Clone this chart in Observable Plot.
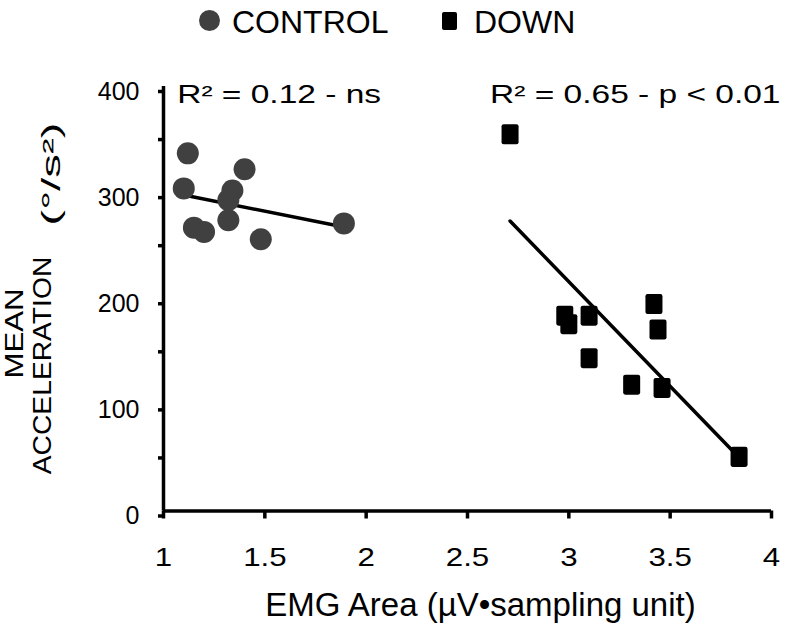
<!DOCTYPE html>
<html><head><meta charset="utf-8">
<script src="https://cdn.jsdelivr.net/npm/d3@7"></script>
<script src="https://cdn.jsdelivr.net/npm/@observablehq/plot@0.6"></script>
<style>
body{margin:0;background:#fff;font-family:"Liberation Sans",Arial,sans-serif;}
#wrap{width:787px;}
#legend{position:relative;height:44px;width:787px;}
#legend .lb{position:absolute;font-size:32px;line-height:32px;color:#000;white-space:nowrap;}
#legend .sw{position:absolute;}
#chart svg{display:block;}
</style></head>
<body><div id="wrap"><div id="legend"></div><div id="chart"></div></div>
<script>
// ---- data ----
const groups = ["CONTROL", "DOWN"];
const groupColors = ["#404040", "#000000"];
const controlX = [1.12, 1.10, 1.40, 1.34, 1.32, 1.32, 1.15, 1.20, 1.48, 1.89];
const controlY = [337, 304, 322, 302, 293, 274, 267, 263, 256, 271];
const downX = [2.71, 2.98, 3.00, 3.10, 3.42, 3.44, 3.10, 3.31, 3.46, 3.84];
const downY = [355, 184, 176, 184, 195, 171, 144, 119, 116, 51];
const xTicks = [1, 1.5, 2, 2.5, 3, 3.5, 4];
const yTicks = [0, 100, 200, 300, 400];
const yMinorTicks = [50, 150, 250, 350];
const annotations = ["R\u00B2 = 0.12 - ns", "R\u00B2 = 0.65 - p < 0.01"];
const xTitle = "EMG Area (\u00B5V\u2022sampling unit)";
const yTitleLines = ["MEAN", "ACCELERATION", "(\u00B0/s\u00B2)"];

const control = controlX.map((x, i) => ({x, y: controlY[i]}));
const down = downX.map((x, i) => ({x, y: downY[i]}));

// ---- legend (HTML, above the SVG) ----
const legend = document.getElementById("legend");
legend.innerHTML = `
  <div class="sw" style="left:198.5px;top:9.5px;width:21px;height:21px;border-radius:50%;background:${groupColors[0]}"></div>
  <div class="lb" style="left:232px;top:6px">${groups[0]}</div>
  <div class="sw" style="left:441.5px;top:12px;width:15px;height:18px;border-radius:2px;background:${groupColors[1]}"></div>
  <div class="lb" style="left:474px;top:6px">${groups[1]}</div>`;

// rounded, slightly tall rectangle symbol for the DOWN group
const tallSquare = {
  draw(ctx, size) {
    const s = Math.sqrt(size);
    const w = s * 0.48, h = s * 0.565, r = s * 0.12;
    ctx.moveTo(-w + r, -h);
    ctx.arcTo(w, -h, w, h, r);
    ctx.arcTo(w, h, -w, h, r);
    ctx.arcTo(-w, h, -w, -h, r);
    ctx.arcTo(-w, -h, w, -h, r);
    ctx.closePath();
  }
};

const font = "'Liberation Sans', Arial, sans-serif";

const chart = Plot.plot({
  width: 787,
  height: 582,
  marginTop: 42,
  marginLeft: 163,
  marginRight: 16,
  marginBottom: 115.5,
  style: {fontFamily: font, color: "#000", background: "#fff", overflow: "visible"},
  x: {domain: [1, 4]},
  y: {domain: [0, 400]},
  marks: [
    Plot.axisY({ticks: yTicks, tickSize: 5, tickPadding: 19, fontSize: 25, dy: 5, stroke: "#000", strokeWidth: 3.5, label: null, tickFormat: d => String(d)}),
    Plot.axisY({ticks: yMinorTicks, tickSize: 5, stroke: "#000", strokeWidth: 3.5, label: null, tickFormat: () => ""}),
    Plot.axisX({ticks: xTicks, tickSize: 8, tickPadding: 29, fontSize: 25, stroke: "#000", strokeWidth: 3.5, label: null, tickFormat: d => String(d)}),
    Plot.ruleX([1], {y1: 0, y2: 400, stroke: "#000", strokeWidth: 3.5}),
    Plot.ruleY([0], {x1: 1, x2: 4, stroke: "#000", strokeWidth: 3.5}),
    Plot.linearRegressionY(control, {x: "x", y: "y", ci: 0, stroke: "#000", strokeWidth: 3.5}),
    Plot.linearRegressionY(down, {x: "x", y: "y", ci: 0, stroke: "#000", strokeWidth: 3.5}),
    Plot.dot(control, {x: "x", y: "y", r: 11, fill: groupColors[0]}),
    Plot.dot(down, {x: "x", y: "y", r: 10, fill: groupColors[1], symbol: tallSquare}),
    Plot.text([annotations[0]], {frameAnchor: "top-left", textAnchor: "start", lineAnchor: "middle", dx: 13.7, dy: 8, fontSize: 25, fill: "#000"}),
    Plot.text([annotations[1]], {frameAnchor: "top-right", textAnchor: "end", lineAnchor: "middle", dx: 9, dy: 8, fontSize: 25, fill: "#000"}),
    Plot.text([xTitle], {frameAnchor: "bottom", textAnchor: "middle", lineAnchor: "bottom", dx: 13, dy: 105, fontSize: 33, fill: "#000"}),
    Plot.text([yTitleLines[0]], {frameAnchor: "left", rotate: -90, textAnchor: "middle", lineAnchor: "middle", dx: -149, dy: 34.75, fontSize: 25, fill: "#000"}),
    Plot.text([yTitleLines[1]], {frameAnchor: "left", rotate: -90, textAnchor: "middle", lineAnchor: "middle", dx: -120.5, dy: 66.75, fontSize: 25, fill: "#000"}),
    Plot.text([yTitleLines[2]], {frameAnchor: "left", rotate: -90, textAnchor: "middle", lineAnchor: "middle", dx: -112, dy: -124.75, fontSize: 25, fill: "#000"})
  ]
});
document.getElementById("chart").appendChild(chart);

// stretch some texts along their writing direction, as in the reference
function stretch(match, k) {
  chart.querySelectorAll("text").forEach(t => {
    if (match(t.textContent)) {
      const tr = t.getAttribute("transform") || "";
      t.setAttribute("transform", `${tr} scale(${k},1)`);
    }
  });
}
stretch(s => annotations.includes(s), 1.34);
stretch(s => xTicks.map(String).includes(s), 1.25);
stretch(s => s === yTitleLines[0], 1.25);
stretch(s => s === yTitleLines[1], 1.13);
stretch(s => s === yTitleLines[2], 1.9);
</script></body></html>
